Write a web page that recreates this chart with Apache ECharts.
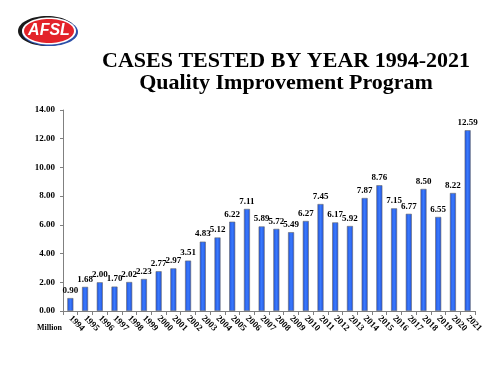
<!DOCTYPE html>
<html>
<head>
<meta charset="utf-8">
<script src="https://cdn.jsdelivr.net/npm/echarts@6/dist/echarts.min.js"></script>
<style>
  html, body { margin: 0; padding: 0; background: #fff; }
  #main { width: 500px; height: 375px; }
</style>
</head>
<body>
<div id="main"></div>
<script>
const years = ['1994', '1995', '1996', '1997', '1998', '1999', '2000', '2001', '2002', '2003',
  '2004', '2005', '2006', '2007', '2008', '2009', '2010', '2011', '2012', '2013',
  '2014', '2015', '2016', '2017', '2018', '2019', '2020', '2021'];
const cases = [0.90, 1.68, 2.00, 1.70, 2.02, 2.23, 2.77, 2.97, 3.51, 4.83,
  5.12, 6.22, 7.11, 5.89, 5.72, 5.49, 6.27, 7.45, 6.17, 5.92,
  7.87, 8.76, 7.15, 6.77, 8.50, 6.55, 8.22, 12.59];
const titleLines = ['CASES TESTED BY YEAR 1994-2021', 'Quality Improvement Program'];
const unitLabel = 'Million';

const serif = '"Liberation Serif", "Times New Roman", serif';

let option = {
  animation: false,
  backgroundColor: '#fff',
  grid: { left: 63, right: 25, top: 110, bottom: 64 },
  graphic: [
    // logo
    { type: 'ellipse', shape: { cx: 47, cy: 31, rx: 29, ry: 15 }, style: { fill: '#1a1a1a' } },
    { type: 'ellipse', shape: { cx: 50, cy: 32, rx: 28, ry: 14 }, style: { fill: '#2b4fa8' } },
    { type: 'ellipse', shape: { cx: 49, cy: 31, rx: 27, ry: 13.5 }, style: { fill: '#fff' } },
    { type: 'ellipse', shape: { cx: 49, cy: 31, rx: 25, ry: 12 }, style: { fill: '#e3232a' } },
    {
      type: 'text', x: 49, y: 31,
      style: {
        text: 'AFSL', fill: '#fff', textAlign: 'center', textVerticalAlign: 'middle',
        font: 'italic bold 16px "Liberation Sans", Arial, sans-serif'
      }
    },
    {
      type: 'text', x: 286, y: 61,
      style: {
        text: titleLines[0], fill: '#000', textAlign: 'center', textVerticalAlign: 'middle',
        font: 'bold 22px ' + serif
      }
    },
    {
      type: 'text', x: 286, y: 83,
      style: {
        text: titleLines[1], fill: '#000', textAlign: 'center', textVerticalAlign: 'middle',
        font: 'bold 22px ' + serif
      }
    },
    {
      type: 'text', x: 37, y: 328,
      style: { text: unitLabel, fill: '#000', textVerticalAlign: 'middle', font: 'bold 8px ' + serif }
    }
  ],
  xAxis: {
    type: 'category',
    data: years,
    axisLine: { lineStyle: { color: '#808080', width: 1 } },
    axisTick: { show: true, alignWithLabel: false, length: 4, lineStyle: { color: '#808080' } },
    axisLabel: {
      interval: 0,
      rotate: -45,
      margin: 6,
      color: '#000',
      fontFamily: serif,
      fontWeight: 'bold',
      fontSize: 9
    }
  },
  yAxis: {
    type: 'value',
    min: 0,
    max: 14,
    interval: 2,
    axisLine: { show: true, lineStyle: { color: '#808080' } },
    axisTick: { show: true, length: 3, lineStyle: { color: '#808080' } },
    splitLine: { show: false },
    axisLabel: {
      margin: 8,
      color: '#000',
      fontFamily: serif,
      fontWeight: 'bold',
      fontSize: 9,
      formatter: v => v.toFixed(2)
    }
  },
  series: [{
    type: 'bar',
    data: cases,
    barWidth: 6,
    itemStyle: {
      color: new echarts.graphic.LinearGradient(0, 0, 1, 0, [
        { offset: 0, color: '#1f4fd8' },
        { offset: 0.5, color: '#3a7bff' },
        { offset: 1, color: '#1f4fd8' }
      ]),
      borderColor: '#6a6a6a',
      borderWidth: 0.6
    },
    label: {
      show: true,
      position: 'top',
      distance: 3,
      color: '#000',
      fontFamily: serif,
      fontWeight: 'bold',
      fontSize: 9,
      formatter: p => p.value.toFixed(2)
    }
  }]
};

let myChart = echarts.init(document.getElementById('main'));
myChart.setOption(option);
</script>
</body>
</html>
